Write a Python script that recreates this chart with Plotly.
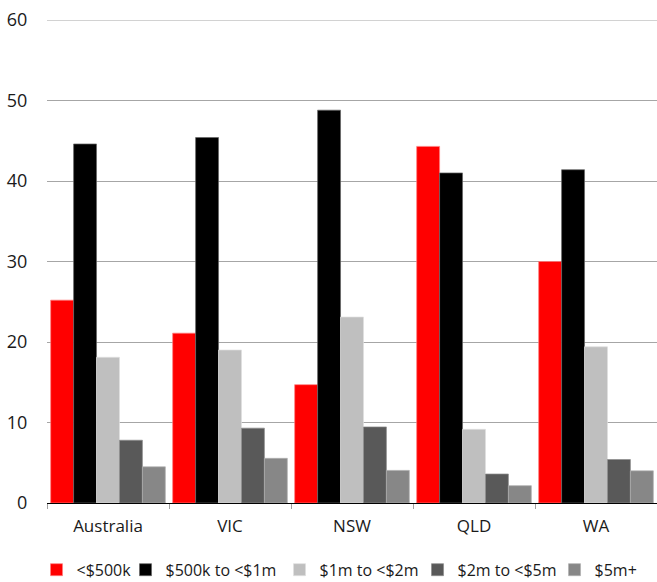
import plotly.graph_objects as go

# Regions along the x axis
regions = ["Australia", "VIC", "NSW", "QLD", "WA"]

# Share (%) of each value band per region
under_500k = [25.2, 21.1, 14.7, 44.3, 30.0]
k500_to_1m = [44.6, 45.4, 48.8, 41.0, 41.4]
m1_to_2m = [18.1, 19.0, 23.1, 9.15, 19.4]
m2_to_5m = [7.8, 9.3, 9.45, 3.6, 5.4]
m5_plus = [4.5, 5.55, 4.05, 2.15, 4.0]

y_ticks = [0, 10, 20, 30, 40, 50, 60]

# name, values, fill, outline, legend entry width
series = [
    ("<$500k", under_500k, "#FF0000", "#FF8080", 44),
    ("$500k to <$1m", k500_to_1m, "#000000", "#666666", 109),
    ("$1m to <$2m", m1_to_2m, "#BFBFBF", "#E0E0E0", 93),
    ("$2m to <$5m", m2_to_5m, "#595959", "#8C8C8C", 92),
    ("$5m+", m5_plus, "#878787", "#B0B0B0", 48),
]

fig = go.Figure()
for name, vals, color, edge, lw in series:
    fig.add_trace(go.Bar(
        name=name,
        x=regions,
        y=vals,
        legendwidth=lw,
        marker=dict(color=color, line=dict(color=edge, width=0.7)),
    ))

family = "Open Sans, Lato, sans-serif"
font = dict(family=family, size=17, color="#1A1A1A")
grid_color = "#A6A6A6"

# top gridline sits on the range edge, so draw it explicitly
fig.add_shape(
    type="line", xref="paper", yref="y",
    x0=0, x1=1, y0=y_ticks[-1], y1=y_ticks[-1],
    line=dict(color=grid_color, width=1),
    layer="below",
)

fig.update_layout(
    width=657,
    height=582,
    margin=dict(l=47, r=0, t=20, b=79),
    paper_bgcolor="white",
    plot_bgcolor="white",
    barmode="group",
    bargap=0.06,
    bargroupgap=0,
    font=font,
    showlegend=True,
    legend=dict(
        orientation="h",
        xref="container",
        x=0.0556,
        xanchor="left",
        yref="container",
        y=0.021,
        yanchor="middle",
        font=dict(family=family, size=16, color="#1A1A1A"),
        itemwidth=30,
        tracegroupgap=0,
        bgcolor="rgba(0,0,0,0)",
    ),
    xaxis=dict(
        range=[-0.5, 4.5],
        showgrid=False,
        showline=True,
        linecolor="#000000",
        linewidth=1,
        ticks="outside",
        tickson="boundaries",
        ticklen=5,
        tickcolor="#A0A0A0",
        tickfont=font,
        ticklabelstandoff=8,
        fixedrange=True,
    ),
    yaxis=dict(
        range=[0, 60],
        tickvals=y_ticks,
        showgrid=True,
        gridcolor=grid_color,
        gridwidth=1,
        zeroline=False,
        showline=False,
        ticks="outside",
        ticklen=15,
        tickcolor="rgba(0,0,0,0)",
        tickfont=dict(family=family, size=18, color="#1A1A1A"),
        fixedrange=True,
    ),
)

fig.write_html("out.html")
